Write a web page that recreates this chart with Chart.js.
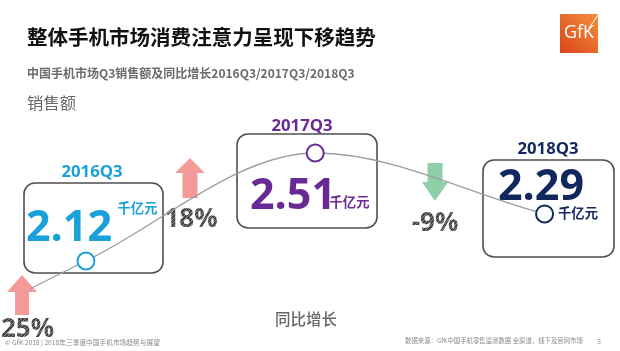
<!DOCTYPE html>
<html>
<head>
<meta charset="utf-8">
<script src="https://cdn.jsdelivr.net/npm/chart.js@4.4.0/dist/chart.umd.min.js"></script>
<style>
  html, body { margin: 0; background: #fff; }
  canvas { display: block; }
</style>
</head>
<body>
<canvas id="chart" width="620" height="351"></canvas>
<script>
// 中国手机市场Q3销售额（千亿元）及同比增长
const quarters = ['2015Q3', '2016Q3', '2017Q3', '2018Q3'];
const sales = [1.70, 2.12, 2.51, 2.29]; // 2015Q3 backed out of the +25% growth
const growth = [25, 18, -9];
const unit = '千亿元';

const title = '整体手机市场消费注意力呈现下移趋势';
const subtitle = '中国手机市场Q3销售额及同比增长2016Q3/2017Q3/2018Q3';
const yTitle = '销售额';
const xTitle = '同比增长';
const footLeft = '© GfK 2018 | 2018年三季度中国手机市场趋势与展望';
const footRight = '数据来源：GfK中国手机零售监测数据 全渠道，线下及官网市场';

const cjk = '"Noto Sans CJK SC", sans-serif';
const latin = '"Open Sans", sans-serif';
const quarterColors = ['#999', '#1ba1da', '#6a2a95', '#13275f'];

// decoration layout (boxes / labels around each point)
const cards = {
  1: { box: [24, 183, 139, 90], tag: [92, 172], value: [26, 241], unit: [137.5, 208] },
  2: { box: [237, 134, 140, 94], tag: [302, 126.5], value: [250, 209], unit: [349.5, 201.5] },
  3: { box: [483, 160, 131, 97], tag: [548, 149], value: [498, 200], unit: [578, 213] }
};
const arrows = [
  { cx: 22, tip: 275, neck: 292, tail: 315, head: 30, shaft: 14, text: [27.5, 337] },
  { cx: 190, tip: 158, neck: 173, tail: 198, head: 30, shaft: 15, text: [191, 227] },
  { cx: 435, tip: 201, neck: 182, tail: 163, head: 26, shaft: 15, text: [435, 231] }
];

function label(ctx, str, x, y, opt) {
  ctx.save();
  const family = opt.family || cjk;
  const weight = opt.weight || 400;
  let size = opt.size || 12;
  ctx.font = `${weight} ${size}px ${family}`;
  if (opt.width) {
    size = size * opt.width / ctx.measureText(str).width;
    ctx.font = `${weight} ${size}px ${family}`;
  }
  ctx.fillStyle = opt.color || '#000';
  ctx.textAlign = opt.align || 'left';
  ctx.textBaseline = opt.baseline || 'middle';
  ctx.fillText(str, x, y);
  ctx.restore();
}

function hatch(ctx) {
  const p = document.createElement('canvas');
  p.width = p.height = 4;
  const g = p.getContext('2d');
  g.fillStyle = '#474747';
  g.fillRect(0, 0, 4, 4);
  g.strokeStyle = '#8c8c8c';
  g.lineWidth = 1;
  g.beginPath();
  g.moveTo(0, 4);
  g.lineTo(4, 0);
  g.stroke();
  return ctx.createPattern(p, 'repeat');
}

function roundBox(ctx, x, y, w, h, r) {
  ctx.beginPath();
  ctx.moveTo(x + r, y);
  ctx.arcTo(x + w, y, x + w, y + h, r);
  ctx.arcTo(x + w, y + h, x, y + h, r);
  ctx.arcTo(x, y + h, x, y, r);
  ctx.arcTo(x, y, x + w, y, r);
  ctx.closePath();
  ctx.stroke();
}

function arrow(ctx, a, color) {
  ctx.fillStyle = color;
  ctx.beginPath();
  ctx.moveTo(a.cx, a.tip);
  ctx.lineTo(a.cx + a.head / 2, a.neck);
  ctx.lineTo(a.cx + a.shaft / 2, a.neck);
  ctx.lineTo(a.cx + a.shaft / 2, a.tail);
  ctx.lineTo(a.cx - a.shaft / 2, a.tail);
  ctx.lineTo(a.cx - a.shaft / 2, a.neck);
  ctx.lineTo(a.cx - a.head / 2, a.neck);
  ctx.closePath();
  ctx.fill();
}

function logo(ctx) {
  const grad = ctx.createLinearGradient(560, 53, 598, 14);
  grad.addColorStop(0, '#d9461a');
  grad.addColorStop(1, '#f4903e');
  ctx.fillStyle = grad;
  ctx.fillRect(560, 14, 38, 39);
  label(ctx, 'GfK', 579, 33, { family: latin, size: 19, weight: 400, color: '#fff', align: 'center', width: 30 });
  ctx.strokeStyle = '#fff';
  ctx.lineWidth = 1;
  ctx.beginPath();
  ctx.moveTo(589, 28);
  ctx.lineTo(598, 15);
  ctx.stroke();
}

const slideDecor = {
  id: 'slideDecor',
  beforeDatasetsDraw(chart) {
    const ctx = chart.ctx;
    ctx.save();

    label(ctx, title, 27, 37, { weight: 700, width: 349, color: '#111' });
    label(ctx, subtitle, 27, 73.5, { weight: 700, width: 328, color: '#6b6b6b' });
    label(ctx, yTitle, 27, 102.5, { weight: 400, width: 49, color: '#666' });
    label(ctx, xTitle, 275, 319.5, { weight: 500, width: 62, color: '#666' });
    label(ctx, footLeft, 5, 342, { weight: 400, width: 155, color: '#8a8a8a' });
    label(ctx, footRight, 405, 341, { weight: 400, width: 178, color: '#8a8a8a' });
    label(ctx, '3', 597, 342, { family: latin, size: 7, color: '#8a8a8a' });
    logo(ctx);

    // value cards
    Object.keys(cards).forEach(k => {
      const i = Number(k);
      const c = cards[k];
      const col = quarterColors[i];
      ctx.strokeStyle = '#4f4f4f';
      ctx.lineWidth = 1.6;
      roundBox(ctx, c.box[0], c.box[1], c.box[2], c.box[3], 11);
      label(ctx, quarters[i], c.tag[0], c.tag[1], { family: latin, weight: 700, width: 61, color: col, align: 'center' });
      label(ctx, sales[i].toFixed(2), c.value[0], c.value[1], { family: latin, weight: 700, size: 43, color: col, baseline: 'alphabetic' });
      label(ctx, unit, c.unit[0], c.unit[1], { weight: 700, width: 40, color: col, align: 'center' });
    });

    // growth arrows
    const pat = hatch(ctx);
    arrows.forEach((a, i) => {
      arrow(ctx, a, growth[i] >= 0 ? '#f49a98' : '#8fcfa8');
      label(ctx, growth[i] + '%', a.text[0], a.text[1], { family: latin, weight: 700, size: 26, color: pat, align: 'center', baseline: 'alphabetic' });
    });

    ctx.restore();
  }
};

const ctx = document.getElementById('chart').getContext('2d');
new Chart(ctx, {
  type: 'line',
  data: {
    labels: quarters,
    datasets: [{
      data: sales.map((v, i) => ({ x: i, y: v })),
      borderColor: '#9d9d9d',
      borderWidth: 1.3,
      cubicInterpolationMode: 'monotone',
      capBezierPoints: false,
      pointRadius: [0, 8.5, 8.5, 8.5],
      pointBorderWidth: 2,
      pointBorderColor: quarterColors,
      pointBackgroundColor: '#fff',
      clip: { left: 0, top: 60, right: 10, bottom: 0 }
    }]
  },
  options: {
    responsive: false,
    animation: false,
    events: [],
    layout: { padding: { left: 30, right: 10, top: 100, bottom: 20 } },
    elements: { line: { capBezierPoints: false } },
    scales: {
      x: { type: 'linear', display: false, min: 0.756, max: 3.2832 },
      y: { display: false, min: 1.8672, max: 2.7014 }
    },
    plugins: {
      legend: { display: false },
      tooltip: { enabled: false }
    }
  },
  plugins: [slideDecor]
});
</script>
</body>
</html>
